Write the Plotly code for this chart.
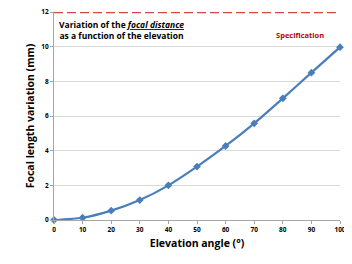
import plotly.graph_objects as go

elevation = [0, 10, 20, 30, 40, 50, 60, 70, 80, 90, 100]
focal_var = [0, 0.13, 0.54, 1.15, 2.0, 3.08, 4.27, 5.58, 7.02, 8.5, 9.97]
spec_x = [0, 100]
spec_y = [12, 12]
x_ticks = list(range(0, 101, 10))
y_ticks = list(range(0, 13, 2))

FONT = "Open Sans"
fig = go.Figure()
fig.add_trace(go.Scatter(
    x=elevation, y=focal_var, mode="lines+markers",
    line=dict(color="#4A7EBB", width=2.2, shape="spline", smoothing=0.6),
    marker=dict(symbol="diamond", size=6, color="#4A7EBB"),
    cliponaxis=False, showlegend=False))
fig.add_trace(go.Scatter(
    x=spec_x, y=spec_y, mode="lines",
    line=dict(color="#D04A4A", width=2.5, dash="9px,4px"),
    cliponaxis=False, showlegend=False, hoverinfo="skip"))

fig.add_annotation(x=0.236, y=0.978, xref="paper", yref="paper", xanchor="center", yanchor="top",
                   text="<b>Variation of the <i><u>focal distance</u></i><br>as a function of the elevation</b>",
                   showarrow=False, align="center", font=dict(family=FONT, size=8.5, color="#000000"))
fig.add_annotation(x=0.86, y=0.925, xref="paper", yref="paper", xanchor="center", yanchor="top",
                   text="<b>Specification</b>", showarrow=False,
                   font=dict(family=FONT, size=7.5, color="#C00000"))

fig.update_layout(
    width=344, height=256,
    margin=dict(l=46, r=12, t=4, b=44, autoexpand=False),
    paper_bgcolor="white", plot_bgcolor="white",
    font=dict(family=FONT, color="#000000"),
    xaxis=dict(range=[0, 100], tickvals=x_ticks, showgrid=False, automargin=False,
               showline=True, linecolor="#A6A6A6", linewidth=1,
               ticks="outside", ticklen=3, tickcolor="#A6A6A6",
               tickfont=dict(family=FONT, size=6.5, color="#000", weight="bold"),
               ticklabeloverflow="allow",
               title=dict(text="<b>Elevation angle (°)</b>", font=dict(family=FONT, size=10.5), standoff=6),
               zeroline=False),
    yaxis=dict(range=[0, 12], tickvals=y_ticks, showgrid=True, gridcolor="#D9D9D9", gridwidth=1,
               automargin=False, ticklabeloverflow="allow",
               showline=True, linecolor="#A6A6A6", linewidth=1,
               ticks="outside", ticklen=3, tickcolor="#A6A6A6",
               tickfont=dict(family=FONT, size=6.5, color="#000", weight="bold"),
               title=dict(text="<b>Focal length variation (mm)</b>", font=dict(family=FONT, size=10.5), standoff=4),
               zeroline=False),
)
fig.write_html("out.html")
